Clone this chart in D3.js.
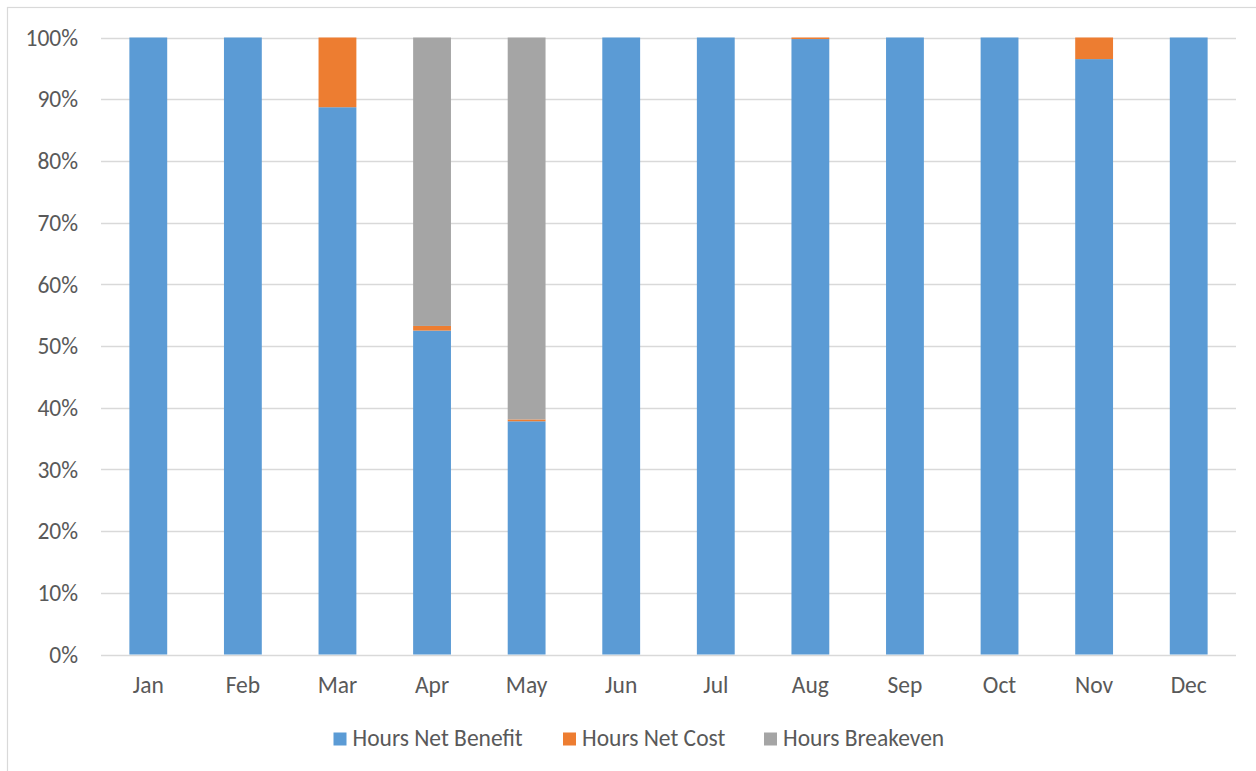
<!DOCTYPE html>
<html><head><meta charset="utf-8">
<script src="https://cdn.jsdelivr.net/npm/d3@7"></script>
<style>
html,body{margin:0;padding:0;background:#fff;}
svg{display:block;font-family:Calibri,Carlito,Lato,"Open Sans",sans-serif;}
</style></head><body>
<svg id="chart" width="1256" height="771"></svg>
<script>
const months = ["Jan","Feb","Mar","Apr","May","Jun","Jul","Aug","Sep","Oct","Nov","Dec"];
const seriesNames = ["Hours Net Benefit","Hours Net Cost","Hours Breakeven"];
const netBenefit = [100,100,88.7,52.5,37.8,100,100,99.75,100,100,96.5,100];
const netCost    = [0,0,11.3,0.75,0.3,0,0,0.25,0,0,3.5,0];
const breakeven  = [0,0,0,46.75,61.9,0,0,0,0,0,0,0];
const colors = ["#5b9bd5","#ed7d31","#a5a5a5"];
const yTicks = [0,10,20,30,40,50,60,70,80,90,100];

const svg = d3.select("#chart");
// chart frame
svg.append("rect").attr("x",7.5).attr("y",7.5).attr("width",1270).attr("height",800)
  .attr("fill","none").attr("stroke","#d9d9d9").attr("stroke-width",1.2);

const m = {left:101, right:1236, top:37.5, bottom:654.5};
const x = d3.scaleBand().domain(months).range([m.left,m.right]).paddingInner(0.6).paddingOuter(0.3);
const y = d3.scaleLinear().domain([0,100]).range([m.bottom,m.top]);

const data = months.map((mo,i)=>({month:mo,"Hours Net Benefit":netBenefit[i],"Hours Net Cost":netCost[i],"Hours Breakeven":breakeven[i]}));
const stack = d3.stack().keys(seriesNames)(data);

// gridlines
svg.append("g").selectAll("line").data(yTicks).join("line")
  .attr("x1",m.left).attr("x2",m.right)
  .attr("y1",d=>Math.round(y(d))+0.5).attr("y2",d=>Math.round(y(d))+0.5)
  .attr("stroke","#d9d9d9").attr("stroke-width",1.3);

const fs = 23.5;
// y labels
svg.append("g").selectAll("text").data(yTicks).join("text")
  .attr("x",78).attr("y",d=>y(d)).attr("dy","0.35em").attr("text-anchor","end")
  .attr("fill","#595959").attr("font-size",fs).text(d=>d+"%");

// bars
svg.append("g").selectAll("g").data(stack).join("g")
  .attr("fill",(d,i)=>colors[i])
  .selectAll("rect").data(d=>d).join("rect")
  .attr("x",d=>x(d.data.month)).attr("width",x.bandwidth())
  .attr("y",d=>y(d[1])).attr("height",d=>Math.max(0,y(d[0])-y(d[1])));

// x labels
svg.append("g").selectAll("text").data(months).join("text")
  .attr("x",d=>x(d)+x.bandwidth()/2).attr("y",693).attr("text-anchor","middle")
  .attr("fill","#595959").attr("font-size",fs).text(d=>d);

// legend
const legendX = [333.5,563,764];
const lg = svg.append("g").selectAll("g").data(seriesNames).join("g")
  .attr("transform",(d,i)=>`translate(${legendX[i]},732.5)`);
lg.append("rect").attr("width",13).attr("height",13).attr("fill",(d,i)=>colors[i]);
lg.append("text").attr("x",19).attr("y",13.5).attr("fill","#595959").attr("font-size",fs).text(d=>d);
</script>
</body></html>
